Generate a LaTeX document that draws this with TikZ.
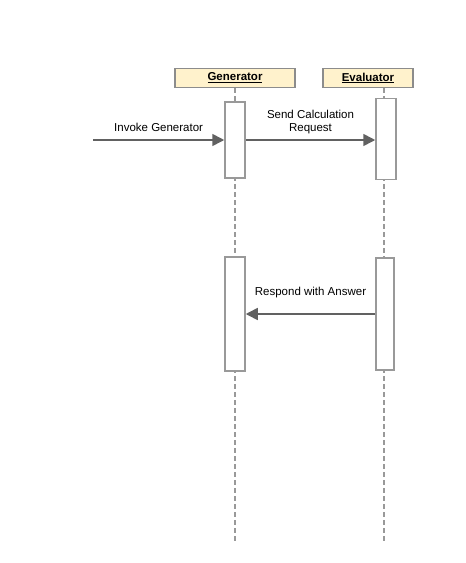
\documentclass[tikz,border=0pt]{standalone}
\usepackage{fontspec}
\setmainfont{Liberation Sans}
\usetikzlibrary{arrows.meta}
\definecolor{headfill}{RGB}{255,242,204}
\tikzset{
  header/.style={draw=black!45, fill=headfill, line width=1.2pt, minimum width=120pt, minimum height=19pt, inner sep=0pt, font=\fontsize{11.5}{13}\selectfont\bfseries},
  activebox/.style={draw=black!40, fill=white, line width=1.5pt, minimum width=20pt, inner sep=0pt},
  lifeline/.style={draw=black!40, line width=1.2pt, dash pattern=on 5pt off 3pt},
  message/.style={draw=black!62, line width=1.6pt, -{Triangle[length=12pt,width=12pt]}}
}
\begin{document}
\begin{tikzpicture}[x=1pt, y=-1pt, font=\fontsize{11.5}{13}\selectfont]
  \useasboundingbox (0,0) rectangle (466,563);
  \def\gx{235}
  \def\ex{384}
  % participants
  \node[header] (generator) at (\gx, 78) {\underline{Generator}};
  \node[header, minimum width=90pt] (evaluator) at (368, 78) {\underline{Evaluator}};
  \coordinate (genend) at (\gx, 543);
  \coordinate (evalend) at (\ex, 543);
  \draw[lifeline] (generator.south -| genend) -- (genend);
  \draw[lifeline] (evaluator.south -| evalend) -- (evalend);
  % activations
  \node[activebox, minimum height=76pt] (gen1) at (\gx, 140) {};
  \node[activebox, minimum height=81pt] (eval1) at (386, 139) {};
  \node[activebox, minimum height=114pt] (gen2) at (\gx, 314) {};
  \node[activebox, minimum height=112pt, minimum width=18pt] (eval2) at (385, 314) {};
  % messages
  \coordinate (caller) at (93, 140);
  \draw[message] (caller) -- (gen1.west) node[midway, above=4pt] {Invoke Generator};
  \draw[message] (gen1.east) -- (eval1.west |- gen1.east) node[midway, above=2pt, align=center] {Send Calculation\\Request};
  \draw[message] (eval2.west) -- (gen2.east) node[midway, above=12pt] {Respond with Answer};
\end{tikzpicture}
\end{document}
